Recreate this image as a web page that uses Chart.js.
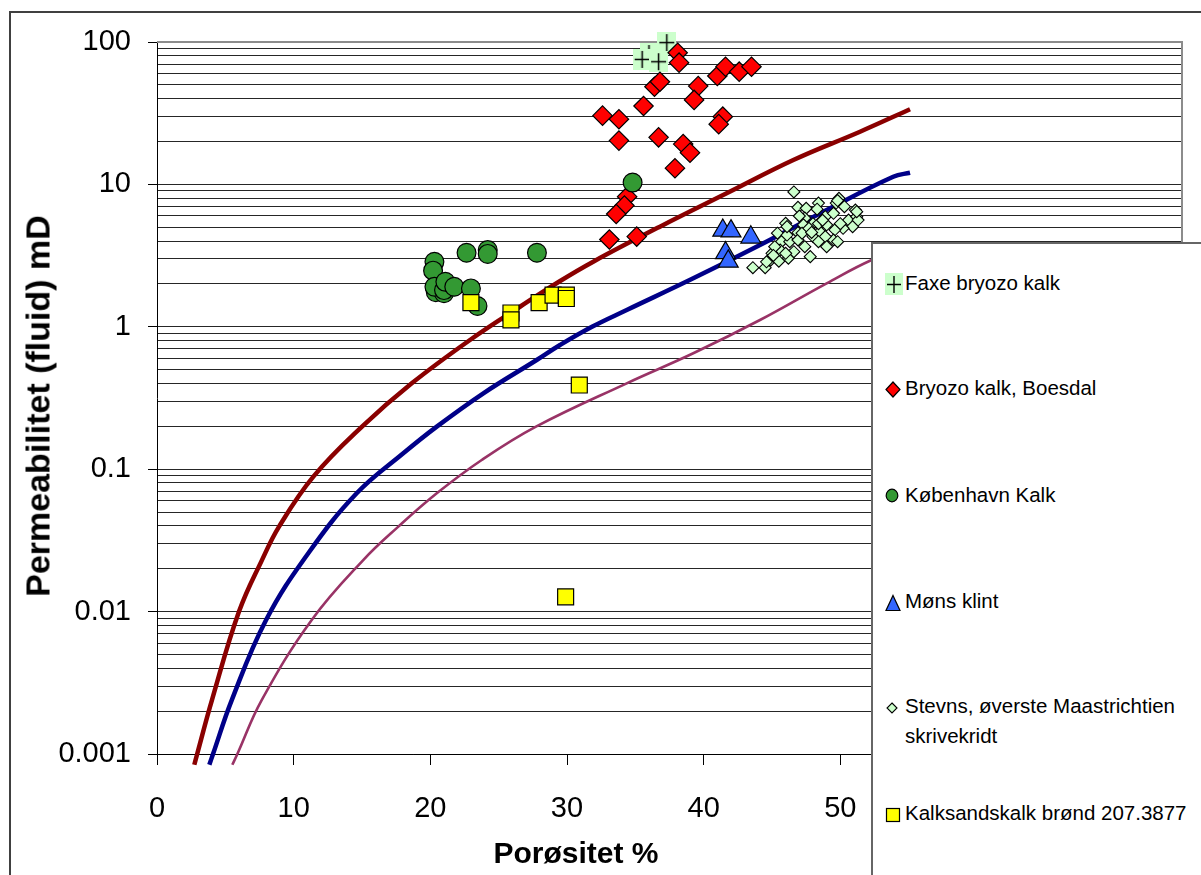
<!DOCTYPE html>
<html>
<head>
<meta charset="utf-8">
<script src="https://cdn.jsdelivr.net/npm/chart.js@4.4.1/dist/chart.umd.min.js"></script>
<style>
html,body{margin:0;padding:0;background:#fff;}
#wrap{position:relative;width:1201px;height:875px;overflow:hidden;font-family:'Liberation Sans',Arial,sans-serif;color:#000;}
#frame{position:absolute;left:9px;top:11px;width:1400px;height:1000px;border-left:2px solid #404040;border-top:2px solid #404040;}
#c{position:absolute;left:0;top:0;}
#xtitle{position:absolute;left:576px;top:853px;transform:translate(-50%,-50%);font-weight:bold;font-size:30px;white-space:nowrap;}
#ytitle{position:absolute;left:38px;top:406px;transform:translate(-50%,-50%) rotate(-90deg);font-weight:bold;font-size:34px;white-space:nowrap;}
#legend{position:absolute;left:871px;top:242px;width:420px;height:700px;border:2px solid #666;background:#fff;}
.li{position:absolute;left:905px;font-size:20.5px;line-height:30px;white-space:nowrap;}
.li.wrap{white-space:normal;width:285px;}
.lm{position:absolute;overflow:visible;}
</style>
</head>
<body>
<div id="wrap">
  <div id="frame"></div>
  <canvas id="c" width="1201" height="875"></canvas>
  <div id="xtitle"></div>
  <div id="ytitle"></div>
  <div id="legend"></div>
</div>
<script>
// ---------- data ----------
const xTickValues = [0, 10, 20, 30, 40, 50, 60, 70];
const yDecades = [0.001, 0.01, 0.1, 1, 10, 100];
const yDecadeLabels = ['0.001', '0.01', '0.1', '1', '10', '100'];
const yMinorMultipliers = [2, 3, 4, 5, 6, 7, 8, 9];

const xTitle = 'Porøsitet %';
const yTitle = 'Permeabilitet (fluid) mD';

const seriesNames = [
  'Faxe bryozo kalk',
  'Bryozo kalk, Boesdal',
  'København Kalk',
  'Møns klint',
  'Stevns, øverste Maastrichtien skrivekridt',
  'Kalksandskalk brønd 207.3877'
];

// [porosity %, permeability mD]
const faxe = [[36.0, 83], [37.3, 99], [35.5, 75.5], [36.7, 72.7]];

const boesdal = [
  [38.1, 84], [38.2, 71.6], [36.4, 48.5], [36.8, 52.6], [35.6, 35.5],
  [32.6, 30.4], [33.8, 28.7], [33.8, 20.3], [36.7, 21.4], [39.6, 49],
  [39.3, 39.2], [41.0, 57.7], [41.6, 67.1], [42.6, 61.9], [43.5, 67.1],
  [41.4, 29.9], [41.1, 26.5], [38.5, 19.2], [39.0, 16.7], [37.9, 13.0],
  [34.4, 8.2], [34.2, 7.1], [33.6, 6.2], [33.1, 4.1], [35.1, 4.3]
];

const koebenhavn = [
  [20.3, 2.86], [20.2, 2.48], [20.4, 1.75], [21.0, 1.72], [20.3, 1.91],
  [21.0, 1.81], [21.1, 2.07], [21.75, 1.91], [22.65, 3.31], [24.2, 3.46],
  [24.2, 3.25], [27.8, 3.31], [22.97, 1.86], [23.45, 1.40], [34.8, 10.3]
];

const moens = [[41.4, 4.75], [42.0, 4.7], [43.45, 4.25], [41.6, 3.3], [41.8, 2.88]];

const stevns = [
  [46.6, 8.85], [43.6, 2.6], [44.5, 2.6], [44.9, 2.94], [45.5, 2.89], [46.2, 3.03],
  [45.4, 4.54], [46.0, 5.33], [45.7, 3.96], [45.6, 3.46], [46.3, 3.96], [46.9, 4.58],
  [46.9, 6.9], [47.5, 6.8], [48.4, 7.4], [48.3, 6.7], [47.4, 5.8], [48.0, 5.3],
  [47.3, 5.2], [46.9, 4.07], [47.4, 3.65], [47.8, 3.11], [48.0, 4.3], [48.5, 4.66],
  [48.4, 5.3], [49.0, 5.2], [48.9, 5.93], [49.5, 6.27], [49.7, 7.4], [49.9, 7.98],
  [50.3, 6.97], [50.6, 5.62], [51.1, 6.6], [51.2, 5.93], [50.9, 5.05], [50.2, 4.92],
  [49.6, 4.8], [49.5, 4.07], [48.9, 4.3], [49.8, 3.96], [49.0, 3.65], [48.4, 3.96],
  [46.1, 4.41], [46.6, 3.37], [46.0, 3.28], [47.2, 4.54], [47.7, 4.92], [45.0, 3.28],
  [45.2, 3.65], [44.6, 2.86], [45.1, 3.17], [51.3, 5.62], [51.2, 6.43], [49.8, 7.7],
  [46.1, 5.05], [47.0, 6.0], [48.7, 5.6], [50.0, 5.3], [47.9, 4.6]
];

const kalksand = [
  [22.97, 1.48], [25.9, 1.25], [25.9, 1.12], [27.96, 1.48], [28.98, 1.67],
  [29.95, 1.67], [29.95, 1.58], [30.9, 0.39], [29.9, 0.0127]
];

// model curves
const curveRed = [
  [2.73, 0.00084], [2.94, 0.001], [4.02, 0.00239], [6.0, 0.01], [7.68, 0.023],
  [8.93, 0.0395], [11.44, 0.0886], [15.0, 0.199], [18.64, 0.401], [22.9, 0.808],
  [26.56, 1.383], [29.41, 2.073], [31.92, 2.866], [36.8, 5.05], [41.68, 8.66],
  [46.56, 14.83], [51.44, 23.44], [55.1, 33.7]
];
const curveBlue = [
  [3.83, 0.00084], [4.1, 0.001], [5.47, 0.00239], [7.98, 0.00873], [11.07, 0.0257],
  [14.61, 0.0677], [18.02, 0.1293], [20.47, 0.199], [23.88, 0.3412], [27.78, 0.5847],
  [29.49, 0.745], [31.83, 1.0], [34.37, 1.312], [39.24, 2.19], [44.12, 3.753],
  [49.0, 6.61], [53.87, 11.32], [55.1, 12.08]
];
const curvePurple = [
  [5.51, 0.00084], [5.88, 0.001], [7.66, 0.00239], [11.32, 0.00873], [15.09, 0.023],
  [17.66, 0.0395], [20.47, 0.0677], [23.76, 0.1161], [27.73, 0.199],
  [34.37, 0.401], [39.24, 0.6516], [44.12, 1.116], [49.0, 2.02], [52.29, 2.944], [55.1, 3.7]
];

// ---------- helpers ----------
const FONT = "'Liberation Sans', Arial, sans-serif";
const toPts = arr => arr.map(p => ({ x: p[0], y: p[1] }));
const isDecade = v => Math.abs(Math.log10(v) - Math.round(Math.log10(v))) < 1e-9;

const yTickValues = [];
yDecades.forEach((d, i) => {
  yTickValues.push(d);
  if (i < yDecades.length - 1) yMinorMultipliers.forEach(m => yTickValues.push(+(d * m).toPrecision(6)));
});

function plusMarker() {
  const w = 19, h = 21;
  const c = document.createElement('canvas');
  c.width = w; c.height = h;
  const g = c.getContext('2d');
  g.fillStyle = '#CCFFCC';
  g.fillRect(0, 0, w, h);
  g.strokeStyle = '#000';
  g.lineWidth = 1.5;
  g.beginPath();
  g.moveTo(2, 10.5); g.lineTo(17, 10.5);
  g.moveTo(9.5, 2); g.lineTo(9.5, 19);
  g.stroke();
  return c;
}

const plotFrame = {
  id: 'plotFrame',
  beforeDatasetsDraw(chart) {
    const { ctx, chartArea: a } = chart;
    ctx.save();
    ctx.strokeStyle = '#8c8c8c';
    ctx.lineWidth = 2;
    ctx.beginPath();
    ctx.moveTo(a.left, a.top);
    ctx.lineTo(a.right, a.top);
    ctx.lineTo(a.right, a.bottom);
    ctx.stroke();
    ctx.restore();
  }
};

const curveClip = { left: 5, top: 5, right: 5, bottom: 12 };
const curveBase = { showLine: true, pointRadius: 0, tension: 0.4, clip: curveClip, fill: false };

const datasets = [
  { label: seriesNames[5], data: toPts(kalksand), order: 1, pointStyle: 'rect', pointRadius: 11.3, clip: false,
    backgroundColor: '#FFFF00', borderColor: '#000', borderWidth: 1.2 },
  { label: seriesNames[4], data: toPts(stevns), order: 2, pointStyle: 'rectRot', pointRadius: 6, clip: false,
    backgroundColor: '#CCFFCC', borderColor: '#000', borderWidth: 1.1 },
  { label: seriesNames[3], data: toPts(moens), order: 3, pointStyle: 'triangle', pointRadius: 11.5, clip: false,
    backgroundColor: '#3366FF', borderColor: '#000', borderWidth: 1.2 },
  { label: seriesNames[2], data: toPts(koebenhavn), order: 4, pointStyle: 'circle', pointRadius: 9.4, clip: false,
    backgroundColor: '#339933', borderColor: '#000', borderWidth: 1.2 },
  { label: seriesNames[1], data: toPts(boesdal), order: 5, pointStyle: 'rectRot', pointRadius: 9.7, clip: false,
    backgroundColor: '#FF0000', borderColor: '#000', borderWidth: 1.2 },
  { label: seriesNames[0], data: toPts(faxe), order: 6, pointStyle: plusMarker(), pointRadius: 10, clip: false },
  Object.assign({ label: 'curve1', data: toPts(curveRed), order: 7, borderColor: '#8a0000', borderWidth: 4.5 }, curveBase),
  Object.assign({ label: 'curve2', data: toPts(curveBlue), order: 8, borderColor: '#000088', borderWidth: 4.5 }, curveBase),
  Object.assign({ label: 'curve3', data: toPts(curvePurple), order: 9, borderColor: '#993366', borderWidth: 2.6 }, curveBase)
];

Chart.defaults.font.family = FONT;
Chart.defaults.color = '#000';

new Chart(document.getElementById('c'), {
  type: 'scatter',
  data: { datasets },
  plugins: [plotFrame],
  options: {
    responsive: false,
    animation: false,
    events: [],
    layout: { padding: { top: 42, right: 19, left: 0, bottom: 0 } },
    plugins: { legend: { display: false }, tooltip: { enabled: false } },
    scales: {
      x: {
        type: 'linear', min: 0, max: 75,
        afterBuildTicks: s => { s.ticks = xTickValues.map(v => ({ value: v })); },
        afterFit: s => { s.height = 121; },
        ticks: { autoSkip: false, maxRotation: 0, font: { size: 29 }, padding: 27, callback: v => String(v) },
        grid: { drawOnChartArea: false, color: '#000', tickLength: 11, lineWidth: 1 },
        border: { color: '#000', width: 1 }
      },
      y: {
        type: 'logarithmic', min: 0.001, max: 100,
        afterBuildTicks: s => { s.ticks = yTickValues.map(v => ({ value: v })); },
        afterFit: s => { s.width = 157; },
        ticks: {
          autoSkip: false, font: { size: 29 }, padding: 17,
          callback: v => isDecade(v) ? yDecadeLabels[Math.round(Math.log10(v)) + 3] : ''
        },
        grid: {
          color: '#262626', lineWidth: 1, tickLength: 9,
          tickColor: c => (c.tick && isDecade(c.tick.value)) ? '#000' : 'rgba(0,0,0,0)'
        },
        border: { color: '#000', width: 1 }
      }
    }
  }
});

document.getElementById('xtitle').textContent = xTitle;
document.getElementById('ytitle').textContent = yTitle;

// ---------- legend (HTML overlay) ----------
const legendTextTop = [268, 373, 480, 586, 691, 798];
const markerSvgs = [
  { l: 885, t: 273, w: 18, h: 22, svg: '<rect x="0" y="0" width="18" height="22" fill="#CCFFCC"/><path d="M2 11.5H16M9 3V20" stroke="#000" stroke-width="1.4"/>' },
  { l: 885, t: 381, w: 16, h: 17, svg: '<polygon points="8,1 15,8.5 8,16 1,8.5" fill="#FF0000" stroke="#000" stroke-width="1.2"/>' },
  { l: 885, t: 488, w: 14, h: 15, svg: '<ellipse cx="7" cy="7.5" rx="5.8" ry="6.3" fill="#339933" stroke="#000" stroke-width="1.2"/>' },
  { l: 885, t: 594, w: 16, h: 18, svg: '<polygon points="8,1.5 15,16.5 1,16.5" fill="#3366FF" stroke="#000" stroke-width="1.2"/>' },
  { l: 886, t: 702, w: 12, h: 12, svg: '<polygon points="6,1 11,6 6,11 1,6" fill="#CCFFCC" stroke="#000" stroke-width="1.1"/>' },
  { l: 885, t: 807, w: 16, h: 16, svg: '<rect x="1.5" y="1.5" width="13" height="13" fill="#FFFF00" stroke="#000" stroke-width="1.2"/>' }
];
const wrap = document.getElementById('wrap');
seriesNames.forEach((name, i) => {
  const m = markerSvgs[i];
  const svg = document.createElementNS('http://www.w3.org/2000/svg', 'svg');
  svg.setAttribute('class', 'lm');
  svg.setAttribute('width', m.w); svg.setAttribute('height', m.h);
  svg.style.left = m.l + 'px'; svg.style.top = m.t + 'px';
  svg.innerHTML = m.svg;
  wrap.appendChild(svg);
  const d = document.createElement('div');
  d.className = 'li' + (i === 4 ? ' wrap' : '');
  d.style.top = legendTextTop[i] + 'px';
  d.textContent = name;
  wrap.appendChild(d);
});
</script>
</body>
</html>
